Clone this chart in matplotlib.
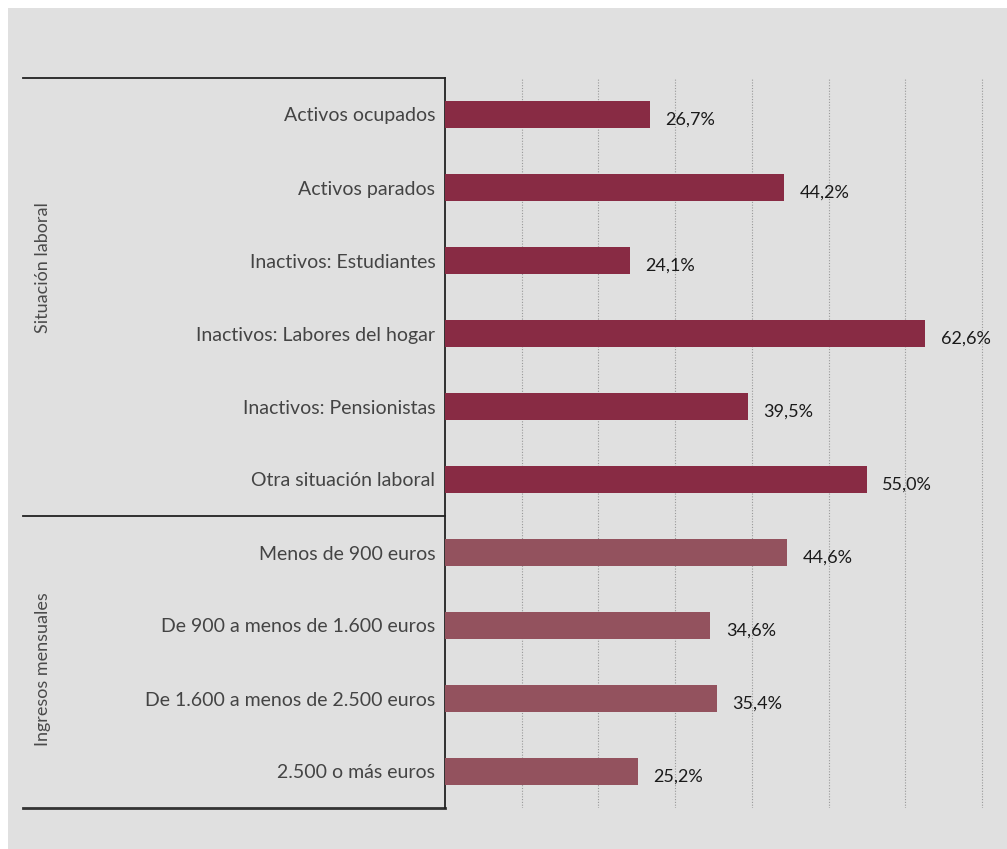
import matplotlib.pyplot as plt
from matplotlib.patches import Rectangle

# data
categories = ["Activos ocupados", "Activos parados", "Inactivos: Estudiantes",
              "Inactivos: Labores del hogar", "Inactivos: Pensionistas",
              "Otra situación laboral", "Menos de 900 euros",
              "De 900 a menos de 1.600 euros", "De 1.600 a menos de 2.500 euros",
              "2.500 o más euros"]
values = [26.7, 44.2, 24.1, 62.6, 39.5, 55.0, 44.6, 34.6, 35.4, 25.2]
groups = ["Situación laboral"] * 6 + ["Ingresos mensuales"] * 4
group_names = ["Situación laboral", "Ingresos mensuales"]
group_colors = {"Situación laboral": "#882b44", "Ingresos mensuales": "#93525e"}

bg = "#e0e0e0"
plt.rcParams['font.family'] = ['Lato', 'DejaVu Sans']

# axes spans 0..72 so the 70% gridline sits inside it
px_per_unit = (982 - 445) / 70
x_right = 445 + 72 * px_per_unit

fig = plt.figure(figsize=(10.07, 8.49), dpi=100, facecolor="white")
fig.patches.append(Rectangle((8 / 1007, 0), 1, 1 - 8 / 849, transform=fig.transFigure,
                             facecolor=bg, edgecolor="none", zorder=-10))
ax = fig.add_axes([445 / 1007, 1 - 808 / 849, (x_right - 445) / 1007, (808 - 78) / 849])
ax.set_facecolor(bg)

ypos = list(range(len(categories)))
colors = [group_colors[g] for g in groups]
ax.barh(ypos, values, height=0.37, color=colors, edgecolor="none", zorder=3)

for y, v in zip(ypos, values):
    label = f"{v:.1f}%".replace(".", ",")
    ax.annotate(label, (v, y), xytext=(11, -4), textcoords="offset points",
                va="center", ha="left", fontsize=13, color="#1a1a1a")

ax.set_xlim(0, 72)
ax.set_ylim(len(categories) - 0.5, -0.5)
ax.set_xticks(range(10, 71, 10))
ax.xaxis.grid(True, linestyle=(0, (1, 1.5)), color="#999999", linewidth=0.8)
ax.tick_params(axis="x", length=0, labelbottom=False)
ax.tick_params(axis="y", length=0, pad=7)
ax.set_yticks(ypos)
ax.set_yticklabels(categories, fontsize=14, color="#444444")

for s in ["top", "right", "bottom"]:
    ax.spines[s].set_visible(False)
ax.spines["left"].set_color("#222222")
ax.spines["left"].set_linewidth(1.3)

# group separator lines extending into the label area
tr = ax.get_yaxis_transform()
x0 = (23 - 445) / (x_right - 445)
ax.plot([x0, 0], [-0.5, -0.5], transform=tr, color="#222222", lw=1.3, clip_on=False)
ax.plot([x0, 0], [5.5, 5.5], transform=tr, color="#222222", lw=1.3, clip_on=False)
ax.plot([x0, 0], [9.5, 9.5], transform=tr, color="#333333", lw=2.0, clip_on=False)

# rotated group labels
xg = (43 - 445) / (x_right - 445)
ax.text(xg, 2.1, group_names[0], transform=tr, rotation=90, ha="center", va="center",
        fontsize=13, color="#4a4a4a")
ax.text(xg, 7.6, group_names[1], transform=tr, rotation=90, ha="center", va="center",
        fontsize=13, color="#4a4a4a")

fig.savefig("out.png", dpi=100, facecolor=fig.get_facecolor())
